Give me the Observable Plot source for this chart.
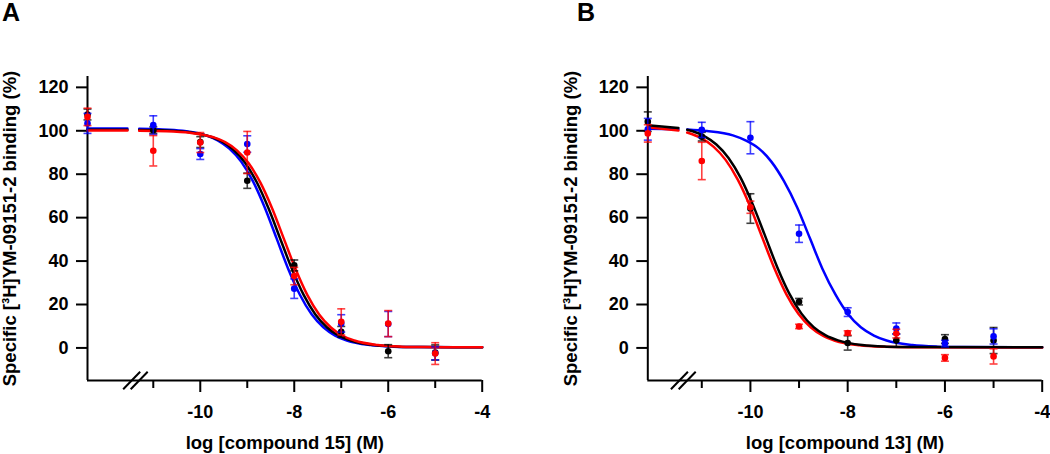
<!DOCTYPE html>
<html>
<head>
<meta charset="utf-8">
<script src="https://cdn.jsdelivr.net/npm/d3@7"></script>
<script src="https://cdn.jsdelivr.net/npm/@observablehq/plot@0.6"></script>
<style>
  body { margin: 0; background: #fff; }
  #wrap { position: relative; width: 1050px; height: 454px; font-family: "Liberation Sans", Arial, sans-serif; }
  .panel { position: absolute; top: 0; }
  .letter { position: absolute; top: -2px; font-weight: bold; font-size: 25px; color: #000; }
</style>
</head>
<body>
<div id="wrap"></div>
<script>
// ---------- shared axis data ----------
const yDomain = [-15, 125];
const yTicks = [0, 20, 40, 60, 80, 100, 120];
const xMinorTicks = [-11, -9, -7, -5];
const xMajorTicks = [-10, -8, -6, -4];
const breakMarks = [-11.46, -11.30];

// ---------- Panel A : compound 15 ----------
const A_xDomain = [-12.4, -4];
const A_conc = [-12.4, -11, -10, -9, -8, -7, -6, -5];
const A_black = [107.5, 100.3, 94.8, 77.0, 38.0, 7.4, -1.5, -2.1];
const A_blackErr = [2.5, 1.5, 2.5, 3.5, 2.5, 2.5, 3.0, 3.5];
const A_blue = [103.4, 102.6, 89.3, 93.9, 27.3, 11.3, 11.0, -2.5];
const A_blueErr = [4.6, 4.3, 2.5, 3.8, 4.5, 4.0, 5.8, 3.0];
const A_red = [106.4, 90.8, 94.6, 90.0, 33.1, 12.0, 11.2, -2.6];
const A_redErr = [4.0, 7.0, 4.6, 9.7, 4.0, 6.0, 6.0, 5.0];

const A_fitBlack_x = [-12.4, -11.55, -11.45, -11.3, -10.8, -10.3, -9.8, -9.55, -9.3, -9.05, -8.8, -8.55, -8.3, -8.05, -7.8, -7.55, -7.3, -7.05, -6.8, -6.3, -5.8, -5.3, -4];
const A_fitBlack_y = [100.5, 100.5, null, 100.4, 100.2, 99.5, 97.4, 95.2, 91.4, 85.4, 76.4, 64.4, 50.4, 36.4, 24.4, 15.4, 9.4, 5.6, 3.4, 1.3, 0.6, 0.4, 0.3];
const A_fitRed_x = [-12.4, -11.55, -11.45, -11.3, -10.72, -10.22, -9.72, -9.47, -9.22, -8.97, -8.72, -8.47, -8.22, -7.97, -7.72, -7.47, -7.22, -6.97, -6.72, -6.22, -5.72, -5.22, -4];
const A_fitRed_y = [100.1, 100.1, null, 100.0, 99.8, 99.1, 97.0, 94.8, 91.0, 85.0, 76.1, 64.2, 50.2, 36.2, 24.3, 15.4, 9.4, 5.6, 3.4, 1.3, 0.6, 0.4, 0.3];
const A_fitBlue_x = [-12.4, -11.55, -11.45, -11.3, -10.88, -10.38, -9.88, -9.63, -9.38, -9.13, -8.88, -8.63, -8.38, -8.13, -7.88, -7.63, -7.38, -7.13, -6.88, -6.38, -5.88, -5.38, -4];
const A_fitBlue_y = [101.0, 101.0, null, 100.9, 100.7, 100.0, 97.9, 95.6, 91.8, 85.8, 76.8, 64.8, 50.7, 36.5, 24.5, 15.5, 9.5, 5.7, 3.4, 1.3, 0.6, 0.4, 0.3];

// ---------- Panel B : compound 13 ----------
const B_xDomain = [-12.11, -4];
const B_conc = [-12.11, -11, -10, -9, -8, -7, -6, -5];
const B_black = [104.2, 97.3, 64.2, 21.3, 2.3, 3.5, 4.1, 3.4];
const B_blackErr = [4.5, 2.0, 6.8, 1.5, 3.3, 3.0, 2.0, 6.0];
const B_blue = [100.7, 100.4, 96.8, 52.6, 16.5, 8.9, 2.0, 5.3];
const B_blueErr = [5.0, 3.5, 7.4, 4.0, 2.0, 2.6, 1.5, 3.5];
const B_red = [98.8, 86.1, 64.8, 9.9, 6.9, 6.6, -4.6, -3.9];
const B_redErr = [4.0, 8.6, 2.8, 1.0, 1.0, 2.0, 1.5, 3.5];

const B_fitBlack_x = [-12.11, -11.48, -11.4, -11.3, -11.2, -10.95, -10.7, -10.45, -10.2, -9.95, -9.7, -9.45, -9.2, -8.95, -8.7, -8.45, -8.2, -7.7, -7.2, -6.7, -4];
const B_fitBlack_y = [102.6, 101.3, null, 100.5, 99.9, 97.5, 93.7, 87.5, 78.3, 66.0, 51.7, 37.3, 25.0, 15.8, 9.6, 5.8, 3.5, 1.3, 0.6, 0.4, 0.3];
const B_fitRed_x = [-12.11, -11.48, -11.4, -11.3, -11.01, -10.76, -10.51, -10.26, -10.01, -9.76, -9.51, -9.26, -9.01, -8.76, -8.51, -8.26, -7.76, -7.26, -6.76, -4];
const B_fitRed_y = [101.6, 100.1, null, 99.2, 96.6, 92.7, 86.6, 77.5, 65.4, 51.1, 36.8, 24.7, 15.6, 9.5, 5.6, 3.3, 1.2, 0.5, 0.3, 0.2];
const B_fitBlue_x = [-12.11, -11.48, -11.4, -11.3, -10.89, -10.36, -10.10, -9.83, -9.57, -9.31, -9.04, -8.78, -8.52, -8.25, -7.99, -7.73, -7.46, -7.20, -6.67, -6.15, -5.62, -4];
const B_fitBlue_y = [100.9, 100.7, null, 100.6, 99.9, 97.9, 95.6, 91.9, 85.8, 76.8, 64.8, 50.7, 36.5, 24.5, 15.5, 9.5, 5.7, 3.4, 1.3, 0.6, 0.4, 0.3];

const colors = { black: "#000000", blue: "#0000ff", red: "#ff0000" };
const yTitle = "Specific [\u00B3H]YM-09151-2 binding (%)";

// ---------- helpers ----------
const capSymbol = { draw(ctx) { ctx.moveTo(-4, 0); ctx.lineTo(4, 0); } };
const slashSymbol = { draw(ctx) { ctx.moveTo(-8.5, 8.8); ctx.lineTo(8.5, -8.8); } };

function pointRows(conc, series) {
  const rows = [];
  for (const s of series) {
    conc.forEach((x, i) => rows.push({ x, y: s.ys[i], e: s.es[i], color: colors[s.key], key: s.key }));
  }
  return rows;
}
function fitRows(xs, ys) {
  return xs.map((x, i) => ({ x, y: ys[i] == null ? NaN : ys[i] }));
}

function panel({ xDomain, conc, series, fits, xTitle, left, marginLeft, marginRight }) {
  const pts = pointRows(conc, series);
  const marks = [
    // axis lines
    Plot.ruleX([xDomain[0]], { y1: yDomain[0], y2: yDomain[1], stroke: "#000", strokeWidth: 2 }),
    Plot.ruleY([yDomain[0]], { x1: xDomain[0], x2: xDomain[1], stroke: "#000", strokeWidth: 2 }),
    Plot.axisY({ ticks: yTicks, tickSize: 11, tickPadding: 8, strokeWidth: 2, fontSize: 18, fontWeight: "bold", label: null }),
    Plot.axisX({ ticks: xMinorTicks, tickSize: 8, tickFormat: () => "", strokeWidth: 2, label: null }),
    Plot.axisX({ ticks: xMajorTicks, tickSize: 12, tickPadding: 13, strokeWidth: 2, fontSize: 18, fontWeight: "bold", label: null, tickFormat: d => String(d) }),
    Plot.dot(breakMarks, { x: d => d, y: () => yDomain[0], symbol: slashSymbol, stroke: "#000", strokeWidth: 2, fill: "none" }),
    // titles
    Plot.text([yTitle], { frameAnchor: "left", dx: -77, rotate: -90, fontSize: 18.5, fontWeight: "bold", textAnchor: "middle", lineAnchor: "middle" }),
    Plot.text([xTitle], { frameAnchor: "bottom", dy: 63, fontSize: 18.5, fontWeight: "bold", textAnchor: "middle", lineAnchor: "middle" })
  ];
  for (const f of fits) {
    marks.push(Plot.line(fitRows(f.xs, f.ys), { x: "x", y: "y", stroke: colors[f.key], strokeWidth: 2.5, curve: "monotone-x" }));
  }
  for (const s of series) {
    const rows = pts.filter(r => r.key === s.key);
    marks.push(
      Plot.ruleX(rows, { x: "x", y1: r => r.y - r.e, y2: r => r.y + r.e, stroke: colors[s.key], strokeWidth: 1.6, strokeOpacity: 0.75 }),
      Plot.dot(rows, { x: "x", y: r => r.y + r.e, symbol: capSymbol, stroke: colors[s.key], strokeWidth: 1.6, strokeOpacity: 0.75, fill: "none" }),
      Plot.dot(rows, { x: "x", y: r => r.y - r.e, symbol: capSymbol, stroke: colors[s.key], strokeWidth: 1.6, strokeOpacity: 0.75, fill: "none" }),
      Plot.dot(rows, { x: "x", y: "y", r: 3.3, fill: colors[s.key], stroke: "none" })
    );
  }
  const svg = Plot.plot({
    width: 525,
    height: 454,
    marginTop: 76,
    marginBottom: 74,
    marginLeft,
    marginRight,
    x: { domain: xDomain },
    y: { domain: yDomain },
    style: { fontFamily: "'Liberation Sans', Arial, sans-serif", fontWeight: "bold", background: "transparent", overflow: "visible", color: "#000" },
    marks
  });
  svg.classList.add("panel");
  svg.style.left = left + "px";
  svg.style.position = "absolute";
  return svg;
}

const wrap = document.getElementById("wrap");
wrap.appendChild(panel({
  xDomain: A_xDomain, conc: A_conc,
  series: [
    { key: "black", ys: A_black, es: A_blackErr },
    { key: "blue", ys: A_blue, es: A_blueErr },
    { key: "red", ys: A_red, es: A_redErr }
  ],
  fits: [
    { key: "blue", xs: A_fitBlue_x, ys: A_fitBlue_y },
    { key: "black", xs: A_fitBlack_x, ys: A_fitBlack_y },
    { key: "red", xs: A_fitRed_x, ys: A_fitRed_y }
  ],
  xTitle: "log [compound 15] (M)", left: 0, marginLeft: 87, marginRight: 43.3
}));
wrap.appendChild(panel({
  xDomain: B_xDomain, conc: B_conc,
  series: [
    { key: "black", ys: B_black, es: B_blackErr },
    { key: "blue", ys: B_blue, es: B_blueErr },
    { key: "red", ys: B_red, es: B_redErr }
  ],
  fits: [
    { key: "blue", xs: B_fitBlue_x, ys: B_fitBlue_y },
    { key: "red", xs: B_fitRed_x, ys: B_fitRed_y },
    { key: "black", xs: B_fitBlack_x, ys: B_fitBlack_y }
  ],
  xTitle: "log [compound 13] (M)", left: 525, marginLeft: 122.3, marginRight: 8.3
}));

for (const [txt, x] of [["A", 2], ["B", 577]]) {
  const d = document.createElement("div");
  d.className = "letter";
  d.style.left = x + "px";
  d.textContent = txt;
  wrap.appendChild(d);
}
</script>
</body>
</html>
